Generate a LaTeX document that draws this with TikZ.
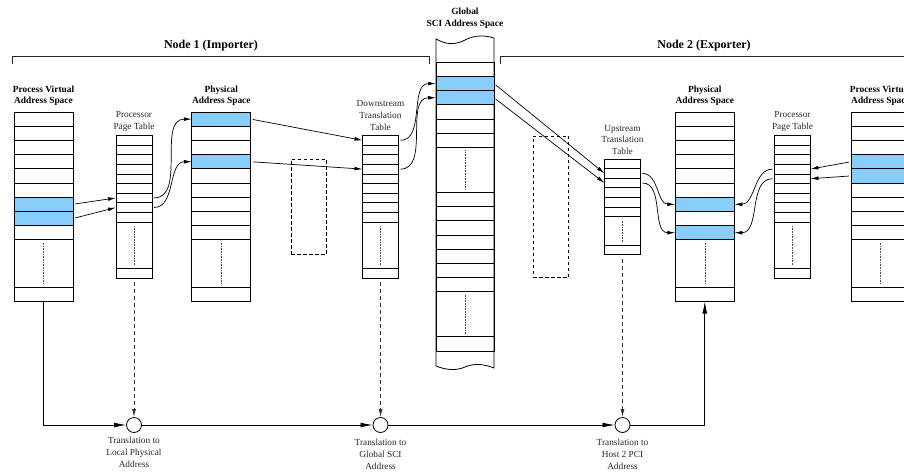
\documentclass[tikz,border=0pt]{standalone}
\usepackage{fontspec}
\setmainfont{Liberation Serif}
\usepackage{tikz}
\usetikzlibrary{positioning,arrows.meta}
\definecolor{cellblue}{RGB}{135,206,250}

\begin{document}
\begin{tikzpicture}[x=1pt, y=-1pt,
                cell/.style={draw, line width=0.8pt, inner sep=0pt, outer sep=0pt},
                hot/.style={draw, line width=0.8pt, fill=cellblue},
                dots/.style={densely dotted, line width=0.6pt, black!70},
                link/.style={-{Latex[length=8pt,width=3.8pt]}, line width=0.7pt, shorten <=2pt},
                flow/.style={-{Latex[length=12pt,width=4.8pt]}, line width=0.7pt},
                probe/.style={-{Latex[length=8pt,width=4pt]}, line width=0.9pt, dash pattern=on 4pt off 3pt, black!80, shorten <=4pt},
                spare/.style={draw, dash pattern=on 3.5pt off 2.5pt, line width=0.7pt, inner sep=0pt},
                bracket/.style={line width=0.7pt, black!85},
                junction/.style={circle, draw, line width=0.8pt, fill=white, minimum size=15pt, inner sep=0pt},
                colhead/.style={font=\fontsize{9.4}{11.8}\selectfont\bfseries, align=center, inner sep=1pt},
                tblhead/.style={font=\fontsize{9.3}{11.8}\selectfont, align=center, inner sep=1pt, text=black!85},
                grouphead/.style={font=\fontsize{12}{14}\selectfont\bfseries, inner sep=1pt}]
                \useasboundingbox (0,0) rectangle (904,474);
                \clip (0,0) rectangle (904,474);

                \node[grouphead] (grpA) at (211,46) {Node 1 (Importer)};
                \node[grouphead] (grpB) at (704,46) {Node 2 (Exporter)};
                \draw[bracket] (12,64) |- (429,56) -- (429,64);
                \draw[bracket] (500,64) |- (912,56);

                \foreach \c/\x in {pvA/43.5, phA/221.3, phB/704.8, pvB/880.5} {
                    \foreach \i in {1,...,9}
                        \node[cell, minimum width=59pt, minimum height=14.2pt] (\c-\i) at (\x, 112+14.2*\i-7.1) {};
                    \node[cell, minimum width=59pt, minimum height=47.5pt] (\c-gap) at (\x, 263.55) {};
                    \node[cell, minimum width=59pt, minimum height=14.2pt] (\c-end) at (\x, 294.4) {};
                    \draw[dots] ([yshift=-3pt]\c-gap.north) -- ([yshift=3pt]\c-gap.south);
                }

                \foreach \c/\x/\n/\top/\gap in {pptA/134/9/135.5/46.5, dtA/380.5/9/135.5/46.5, utB/622.5/6/159/28.4, pptB/792.5/9/135.5/46.5} {
                    \foreach \i in {1,...,\n}
                        \node[cell, minimum width=36pt, minimum height=9.6pt] (\c-\i) at (\x, \top+9.6*\i-4.8) {};
                    \node[cell, minimum width=36pt, minimum height=\gap pt] (\c-gap) at (\x, \top+9.6*\n+\gap/2) {};
                    \node[cell, minimum width=36pt, minimum height=9.6pt] (\c-end) at (\x, \top+9.6*\n+\gap+4.8) {};
                    \draw[dots] ([yshift=-4pt]\c-gap.north) -- ([yshift=3pt]\c-gap.south);
                }

                \draw[cell] (436,366) -- (436,39) .. controls (447,45) and (455,45) .. (465,40)
                    .. controls (475,35) and (484,35) .. (494,38) -- (494,368)
                    .. controls (484,364) and (474,363) .. (465,367) .. controls (456,371) and (446,370) .. (436,366);
                \foreach \i in {1,...,6}
                    \node[cell, minimum width=58pt, minimum height=14.17pt] (gs-\i) at (465, 62.3+14.17*\i-7.08) {};
                \node[cell, minimum width=58pt, minimum height=45pt] (gs-gapA) at (465, 169.8) {};
                \foreach \i in {7,...,13}
                    \node[cell, minimum width=58pt, minimum height=14.2pt] (gs-\i) at (465, 100+14.2*\i) {};
                \node[cell, minimum width=58pt, minimum height=45pt] (gs-gapB) at (465, 314.2) {};
                \node[cell, minimum width=58pt, minimum height=14.3pt] (gs-end) at (465, 343.85) {};
                \draw[dots] ([yshift=-3pt]gs-gapA.north) -- ([yshift=3pt]gs-gapA.south);
                \draw[dots] ([yshift=-3pt]gs-gapB.north) -- ([yshift=3pt]gs-gapB.south);

                \foreach \n in {pvA-7, pvA-8, phA-1, phA-4, gs-2, gs-3, phB-7, phB-9, pvB-4, pvB-5}
                    \draw[hot] (\n.north west) rectangle (\n.south east);

                \node[spare, minimum width=35.7pt, minimum height=94.7pt] (winA) at (308.85,206.65) {};
                \node[spare, minimum width=35.7pt, minimum height=141.7pt] (winB) at (550.85,206.85) {};

                \node[colhead, above=5pt of pvA-1] (pvAhead) {Process Virtual\\Address Space};
                \node[colhead, above=5pt of phA-1] (phAhead) {Physical\\Address Space};
                \node[colhead, above=5pt of phB-1] (phBhead) {Physical\\Address Space};
                \node[colhead, above=5pt of pvB-1] (pvBhead) {Process Virtual\\Address Space};
                \node[colhead] (gsHead) at (465,18) {Global\\SCI Address Space};
                \node[tblhead, above=2.5pt of pptA-1] (pptAhead) {Processor\\Page Table};
                \node[tblhead, above=2.5pt of pptB-1] (pptBhead) {Processor\\Page Table};
                \node[tblhead, above=4pt of dtA-1] (dtAhead) {Downstream\\Translation\\Table};
                \node[tblhead, above=3pt of utB-1] (utBhead) {Upstream\\Translation\\Table};

                \draw[link] (pvA-7.east) -- (pptA-7.west);
                \draw[link] (pvA-8.east) -- (pptA-8.west);
                \draw[link] (pptA-7.east) to[out=0, in=180] (phA-1.west);
                \draw[link] (pptA-8.east) to[out=0, in=180] (phA-4.west);
                \draw[link] (phA-1.east) -- (dtA-1.west);
                \draw[link] (phA-4.east) -- (dtA-4.west);
                \draw[link] (dtA-1.east) to[out=0, in=180] (gs-2.west);
                \draw[link] (dtA-4.east) to[out=0, in=180] (gs-3.west);
                \draw[link] (gs-2.east) -- (utB-2.west);
                \draw[link] (gs-3.east) -- (utB-3.west);
                \draw[link] (utB-2.east) to[out=0, in=180] (phB-7.west);
                \draw[link] (utB-3.east) to[out=0, in=180] (phB-9.west);
                \draw[link] (pptB-4.west) to[out=180, in=0] (phB-7.east);
                \draw[link] (pptB-5.west) to[out=180, in=0] (phB-9.east);
                \draw[link] (pvB-4.west) -- (pptB-4.east);
                \draw[link] (pvB-5.west) -- (pptB-5.east);

                \node[junction] (tA) at (134,425) {};
                \node[junction] (tB) at (380.5,425) {};
                \node[junction] (tC) at (622.5,425) {};
                \node[tblhead, below=3pt of tA] (tAlbl) {Translation to\\Local Physical\\Address};
                \node[tblhead, below=5pt of tB] (tBlbl) {Translation to\\Global SCI\\Address};
                \node[tblhead, below=5pt of tC] (tClbl) {Translation to\\Host 2 PCI\\Address};

                \draw[flow] (pvA-end.south) |- (tA.west);
                \draw[flow] (tA.east) -- (tB.west);
                \draw[flow] (tB.east) -- (tC.west);
                \draw[flow] (tC.east) -| (phB-end.south);
                \draw[probe] (pptA-end.south) -- (tA.north);
                \draw[probe] (dtA-end.south) -- (tB.north);
                \draw[probe] (utB-end.south) -- (tC.north);
            \end{tikzpicture}
\end{document}
